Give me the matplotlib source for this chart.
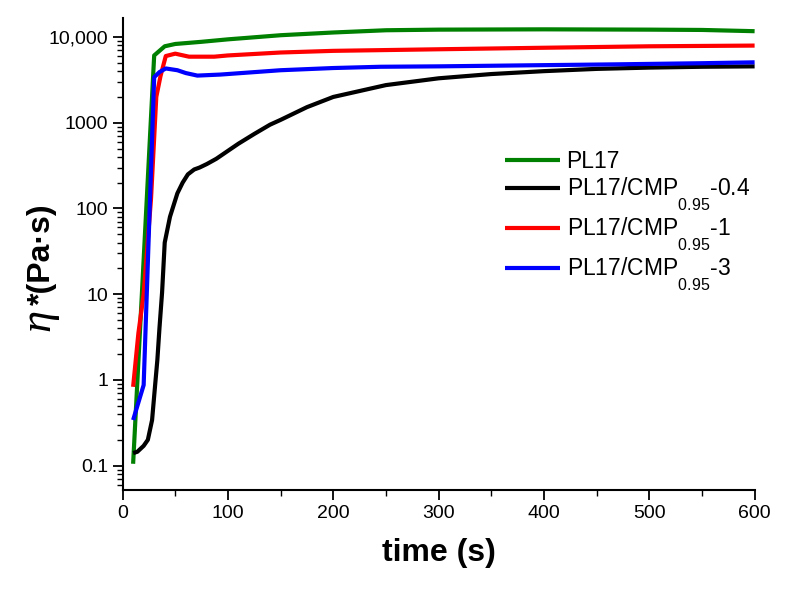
import numpy as np
import matplotlib.pyplot as plt
import matplotlib._mathtext as mathtext_internal
from matplotlib.ticker import FixedLocator, FixedFormatter, MultipleLocator

plt.rcParams['font.family'] = ['Liberation Sans', 'DejaVu Sans']
plt.rcParams['mathtext.fontset'] = 'custom'
plt.rcParams['mathtext.rm'] = 'Liberation Sans'
plt.rcParams['mathtext.it'] = 'Liberation Serif:italic'
plt.rcParams['mathtext.bf'] = 'Liberation Sans:bold'
# subscripts in the original legend sit lower than mathtext's default
mathtext_internal.FontConstantsBase.sub1 = 1.4

t_pl17 = [10, 30, 40, 50, 75, 100, 150, 200, 250, 300, 400, 500, 550, 600]
eta_pl17 = [0.105, 6100, 7800, 8300, 8800, 9400, 10500, 11300, 12000, 12200, 12300, 12200, 12100, 11700]

t_04 = [10, 14, 20, 24, 28, 31, 33, 35, 37.5, 40, 45, 52, 57, 62, 68, 73, 80, 89, 100,
        110, 125, 140, 150, 175, 200, 250, 300, 350, 400, 450, 500, 550, 600]
eta_04 = [0.14, 0.145, 0.17, 0.2, 0.34, 0.9, 1.7, 4, 10.5, 40, 80, 150, 200, 250, 285,
          300, 330, 380, 470, 570, 740, 950, 1080, 1520, 2000, 2750, 3300, 3700, 4000,
          4250, 4400, 4500, 4550]

t_1 = [10, 15, 20, 27, 32, 36, 41, 50, 63, 87, 100, 150, 200, 300, 400, 500, 600]
eta_1 = [0.83, 3.5, 10, 130, 2000, 3500, 6000, 6400, 5900, 5900, 6100, 6600, 6900,
         7200, 7500, 7800, 7950]

t_3 = [10, 20, 30, 35, 41, 52, 60, 71, 93, 150, 200, 245, 300, 400, 467, 550, 600]
eta_3 = [0.34, 0.87, 3400, 3900, 4300, 4100, 3800, 3550, 3650, 4100, 4350, 4500,
         4550, 4700, 4800, 4950, 5070]

labels = ['PL17',
          r'PL17/CMP$_{\mathrm{0.95}}$-0.4',
          r'PL17/CMP$_{\mathrm{0.95}}$-1',
          r'PL17/CMP$_{\mathrm{0.95}}$-3']
colors = ['#008000', 'black', '#ff0000', '#0000ff']

ytick_vals = [0.1, 1, 10, 100, 1000, 10000]
ytick_labels = ['0.1', '1', '10', '100', '1000', '10,000']

fig = plt.figure(figsize=(7.96, 5.91), dpi=100)
ax = fig.add_axes([0.154, 0.171, 0.794, 0.799])

for t, eta, lab, c in zip([t_pl17, t_04, t_1, t_3], [eta_pl17, eta_04, eta_1, eta_3], labels, colors):
    ax.plot(t, eta, color=c, lw=3, label=lab, solid_capstyle='butt')

ax.set_yscale('log')
ax.set_xlim(0, 600)
ax.set_ylim(0.052, 16800)
ax.yaxis.set_major_locator(FixedLocator(ytick_vals))
ax.yaxis.set_major_formatter(FixedFormatter(ytick_labels))
ax.xaxis.set_major_locator(MultipleLocator(100))
ax.xaxis.set_minor_locator(MultipleLocator(50))

for side in ['top', 'right']:
    ax.spines[side].set_visible(False)
for side in ['left', 'bottom']:
    ax.spines[side].set_linewidth(1.5)

ax.tick_params(which='major', direction='out', length=7, width=1.3, labelsize=14)
ax.tick_params(which='minor', direction='out', length=4, width=1.0)

ax.set_xlabel('time (s)', fontsize=23, fontweight='bold', labelpad=12)

# y label: big italic eta, then the bold unit part
ax.text(-0.128, 0.355, r'$\eta$', transform=ax.transAxes, rotation=90,
        ha='center', va='center', fontsize=32)
ax.text(-0.128, 0.5, '*(Pa·s)', transform=ax.transAxes, rotation=90,
        ha='center', va='center', fontsize=23, fontweight='bold')

ax.legend(loc='upper left', bbox_to_anchor=(0.572, 0.764), frameon=False, fontsize=16.5,
          handlelength=2.4, handletextpad=0.3, labelspacing=0.12)

fig.savefig('out.png', dpi=100)
